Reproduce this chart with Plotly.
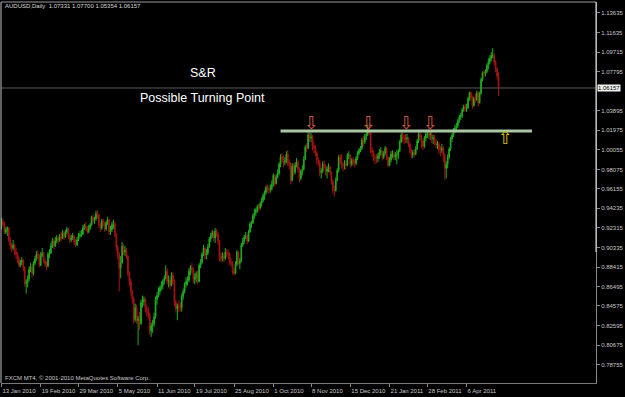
import plotly.graph_objects as go
import pandas as pd

# ---------------- data (prices in pips, 1 pip = 0.0001) ----------------
first_day = "2010-01-13"
first_open = 9250

closes = [
    9290, 9270, 9190,
    9210, 9230, 9110, 9050, 9030,
    9060, 8990, 8970, 8920, 8860,
    8890, 8910, 8840, 8680, 8690,
    8720, 8820, 8840, 8780, 8880,
    8920, 8970, 8950, 8860, 8960,
    8980, 8900, 8870, 8850, 8970,
    8980, 9050, 9100, 9050, 9100,
    9130, 9110, 9140, 9130, 9180,
    9140, 9190, 9220, 9150, 9110,
    9130, 9150, 9090, 9060, 9110,
    9150, 9160, 9170, 9230, 9250,
    9230, 9190, 9230, 9260, 9330,
    9310, 9320, 9370, 9360, 9260,
    9230, 9300, 9280, 9220, 9280,
    9310, 9190, 9210, 9260, 9270,
    9170, 9040, 8970, 8830, 8880,
    9050, 8990, 9010, 8950, 8780,
    8700, 8600, 8530, 8320, 8440,
    8310, 8330, 8280, 8490, 8500,
    8520, 8430, 8410, 8370, 8210,
    8260, 8280, 8350, 8520, 8560,
    8600, 8640, 8660, 8700, 8730,
    8800, 8700, 8710, 8660, 8760,
    8700, 8490, 8430, 8460, 8450,
    8440, 8550, 8600, 8670, 8700,
    8710, 8800, 8840, 8820, 8720,
    8740, 8780, 8700, 8860, 8890,
    8970, 9030, 8960, 8980, 9040,
    9120, 9150, 9180, 9130, 9200,
    9170, 9100, 8930, 8930, 8950,
    8930, 8990, 8970, 8970, 8890,
    8880, 8800, 8780, 8870, 8990,
    8880, 8900, 9060, 9100, 9140,
    9150, 9100, 9190, 9270, 9280,
    9350, 9380, 9410, 9440, 9430,
    9470, 9500, 9550, 9580, 9630,
    9610, 9610, 9620, 9660, 9750,
    9670, 9730, 9770, 9860, 9930,
    9920, 9880, 9890, 9960, 9870,
    9850, 9700, 9840, 9780, 9850,
    9880, 9810, 9720, 9790, 9810,
    9910, 10030, 10020, 10150, 10120,
    10130, 10040, 10020, 9970, 9900,
    9870, 9780, 9790, 9860, 9840,
    9790, 9810, 9830, 9780, 9690,
    9600, 9600, 9700, 9800, 9930,
    9890, 9850, 9850, 9860, 9850,
    9950, 9950, 9860, 9900, 9890,
    9870, 9920, 9970, 10000, 10020,
    10100, 10080, 10130, 10160, 10220,
    10170, 10000, 9980, 9920, 9920,
    9920, 9940, 9980, 9990, 9930,
    9970, 10020, 9930, 9850, 9900,
    9960, 9960, 9930, 9950, 9950,
    9990, 10080, 10150, 10120, 10110,
    10110, 10120, 10060, 10000, 9950,
    9980, 9960, 10010, 10090, 10160,
    10130, 10090, 10040, 10120, 10160,
    10160, 10150, 10160, 10110, 10120,
    10080, 10050, 10060, 10000, 10000,
    10020, 9950, 9820, 9860, 9930,
    10010, 10110, 10150, 10200, 10220,
    10240, 10290, 10330, 10340, 10400,
    10430, 10410, 10420, 10510, 10570,
    10520, 10440, 10510, 10500, 10570,
    10470, 10560, 10700, 10770, 10760,
    10780, 10840, 10870, 10910, 10940,
    10940, 10870, 10810, 10733.1, 10615.7,
]

highs = [
    9330, 9320, 9290,
    9240, 9245, 9240, 9140, 9080,
    9110, 9070, 9030, 8990, 8950,
    8910, 8940, 8920, 8850, 8720,
    8760, 8850, 8880, 8870, 8900,
    8950, 9000, 9010, 8970, 8990,
    9030, 8990, 8930, 8900, 8990,
    9020, 9080, 9130, 9120, 9140,
    9160, 9150, 9170, 9190, 9210,
    9200, 9210, 9240, 9230, 9170,
    9160, 9180, 9160, 9120, 9140,
    9180, 9200, 9210, 9260, 9270,
    9290, 9250, 9260, 9280, 9350,
    9360, 9340, 9400, 9405, 9370,
    9280, 9320, 9320, 9290, 9300,
    9340, 9320, 9250, 9290, 9310,
    9290, 9180, 9060, 8990, 8950,
    9090, 9070, 9050, 9030, 8960,
    8800, 8730, 8620, 8550, 8480,
    8470, 8360, 8400, 8520, 8560,
    8550, 8540, 8470, 8450, 8390,
    8290, 8320, 8390, 8550, 8590,
    8640, 8660, 8700, 8720, 8760,
    8860, 8830, 8760, 8740, 8790,
    8790, 8720, 8520, 8480, 8510,
    8490, 8580, 8630, 8690, 8740,
    8750, 8830, 8860, 8880, 8840,
    8780, 8800, 8810, 8880, 8920,
    8990, 9060, 9040, 9020, 9070,
    9140, 9180, 9210, 9200, 9230,
    9220, 9190, 9110, 8980, 8990,
    8980, 9030, 9020, 9010, 8990,
    8930, 8900, 8830, 8900, 9010,
    9000, 8930, 9080, 9130, 9160,
    9190, 9170, 9210, 9290, 9300,
    9370, 9420, 9430, 9460, 9470,
    9490, 9530, 9570, 9600, 9650,
    9660, 9650, 9660, 9700, 9770,
    9760, 9760, 9810, 9880, 9960,
    9970, 9950, 9930, 9990, 10000,
    9910, 9880, 9870, 9870, 9880,
    9920, 9900, 9830, 9810, 9850,
    9940, 10050, 10070, 10180, 10183,
    10170, 10150, 10080, 10050, 9990,
    9930, 9900, 9820, 9890, 9900,
    9860, 9840, 9870, 9850, 9790,
    9710, 9650, 9730, 9820, 9950,
    9960, 9960, 9880, 9900, 9900,
    9970, 9990, 9960, 9920, 9930,
    9910, 9940, 9990, 10020, 10040,
    10120, 10140, 10160, 10190, 10250,
    10255, 10180, 10030, 10000, 9960,
    9960, 9970, 10010, 10030, 10000,
    9990, 10040, 10030, 9940, 9930,
    9990, 10000, 9990, 9980, 10000,
    10010, 10100, 10170, 10180, 10150,
    10160, 10160, 10130, 10080, 10020,
    10000, 10010, 10040, 10110, 10180,
    10180, 10150, 10100, 10140, 10180,
    10200, 10220, 10190, 10180, 10150,
    10150, 10110, 10090, 10080, 10040,
    10060, 10040, 9970, 9890, 9960,
    10030, 10130, 10170, 10220, 10250,
    10270, 10310, 10350, 10370, 10420,
    10450, 10460, 10460, 10530, 10580,
    10580, 10540, 10530, 10560, 10590,
    10580, 10580, 10720, 10780, 10790,
    10800, 10860, 10910, 10940, 10970,
    11011, 10960, 10890, 10820, 10770,
]

lows = [
    9215, 9240, 9170,
    9170, 9150, 9090, 9020, 8990,
    9010, 8960, 8920, 8880, 8840,
    8840, 8860, 8800, 8650, 8580,
    8640, 8700, 8790, 8740, 8760,
    8860, 8900, 8920, 8840, 8850,
    8940, 8880, 8840, 8810, 8840,
    8930, 8970, 9030, 9020, 9040,
    9080, 9070, 9090, 9100, 9120,
    9110, 9130, 9170, 9120, 9080,
    9090, 9110, 9060, 9040, 9050,
    9100, 9130, 9140, 9160, 9210,
    9200, 9170, 9180, 9210, 9250,
    9280, 9270, 9300, 9320, 9230,
    9190, 9210, 9250, 9190, 9200,
    9260, 9160, 9160, 9190, 9220,
    9140, 9000, 8920, 8600, 8730,
    8900, 8960, 8950, 8920, 8750,
    8650, 8560, 8480, 8280, 8300,
    8280, 8067, 8220, 8270, 8440,
    8460, 8390, 8350, 8330, 8170,
    8150, 8190, 8250, 8330, 8470,
    8540, 8570, 8610, 8620, 8670,
    8720, 8670, 8640, 8620, 8650,
    8670, 8450, 8390, 8316, 8400,
    8400, 8400, 8520, 8580, 8640,
    8660, 8690, 8760, 8780, 8680,
    8670, 8690, 8670, 8690, 8830,
    8870, 8950, 8920, 8920, 8960,
    9030, 9090, 9130, 9100, 9080,
    9140, 9060, 8900, 8890, 8900,
    8890, 8910, 8940, 8920, 8860,
    8850, 8770, 8760, 8770, 8850,
    8860, 8820, 8890, 9040, 9070,
    9120, 9070, 9090, 9180, 9230,
    9270, 9320, 9350, 9380, 9390,
    9410, 9440, 9480, 9510, 9560,
    9580, 9570, 9580, 9600, 9640,
    9640, 9660, 9720, 9750, 9830,
    9880, 9830, 9850, 9870, 9840,
    9810, 9660, 9690, 9750, 9760,
    9830, 9780, 9680, 9700, 9750,
    9800, 9900, 9980, 10010, 10080,
    10080, 10000, 9970, 9940, 9860,
    9840, 9740, 9720, 9770, 9810,
    9750, 9720, 9780, 9750, 9660,
    9570, 9540, 9590, 9690, 9780,
    9860, 9820, 9790, 9810, 9810,
    9840, 9910, 9830, 9840, 9850,
    9830, 9850, 9900, 9950, 9980,
    10000, 10040, 10060, 10100, 10140,
    10150, 9970, 9940, 9890, 9860,
    9870, 9880, 9910, 9950, 9900,
    9910, 9950, 9900, 9830, 9840,
    9880, 9920, 9900, 9900, 9860,
    9910, 9980, 10070, 10080, 10060,
    10070, 10070, 10030, 9970, 9920,
    9920, 9930, 9950, 10000, 10070,
    10100, 10020, 10000, 10020, 10090,
    10120, 10110, 10100, 10070, 10060,
    10050, 10020, 10010, 9960, 9940,
    9970, 9880, 9705, 9720, 9820,
    9910, 9990, 10080, 10130, 10170,
    10190, 10220, 10270, 10300, 10320,
    10380, 10380, 10380, 10410, 10490,
    10490, 10410, 10430, 10470, 10490,
    10430, 10460, 10550, 10680, 10730,
    10730, 10760, 10800, 10850, 10880,
    10910, 10840, 10770, 10700, 10535.4,
]

date_labels = ["13 Jan 2010", "19 Feb 2010", "29 Mar 2010", "5 May 2010", "11 Jun 2010",
               "19 Jul 2010", "25 Aug 2010", "1 Oct 2010", "8 Nov 2010", "15 Dec 2010",
               "21 Jan 2011", "28 Feb 2011", "6 Apr 2011"]

# 1.05875 sits under the highlighted current-price label, so it is not shown
price_ticks = [1.13635, 1.11635, 1.09715, 1.07795, 1.03895, 1.01975, 1.00055,
               0.98075, 0.96155, 0.94235, 0.92315, 0.90335, 0.88415, 0.86495, 0.84575,
               0.82595, 0.80675, 0.78755, 0.76835]

sr_level = 1.0190          # support / resistance line
symbol = "AUDUSD,Daily"
copyright_text = "FXCM MT4, \u00a9 2001-2010 MetaQuotes Software Corp."

# ---------------- build series ----------------
PIP = 10000.0
c = [v / PIP for v in closes]
h = [v / PIP for v in highs]
l = [v / PIP for v in lows]
o = [first_open / PIP] + c[:-1]          # FX daily open = previous close
n = len(c)
dates = pd.bdate_range(first_day, periods=n)
xs = list(range(n))
label_idx = [int(dates.get_indexer([pd.to_datetime(s, format="%d %b %Y")])[0]) for s in date_labels]

# ---------------- geometry ----------------
W, H = 625, 397
ML, MR, MT, MB = 1, 23, 2, 14
PW, PH = W - ML - MR, H - MT - MB
BAR_PX, FIRST_BAR_PX = 1.468, 1.5
x_lo = (ML - FIRST_BAR_PX) / BAR_PX
x_hi = (ML + PW - FIRST_BAR_PX) / BAR_PX
PX_PER_UNIT, REF_PRICE, REF_PY = 1009.5, 0.76835, 384.0
y_hi = REF_PRICE + (REF_PY - MT) / PX_PER_UNIT
y_lo = REF_PRICE + (REF_PY - (MT + PH)) / PX_PER_UNIT


def pxx(px):
    return (px - ML) / PW


def pxy(py):
    return 1 - (py - MT) / PH


UP, DN = "#1fae1f", "#a51414"
AXC = "#c8c8c8"
SMALL = dict(family="Liberation Sans, Arial", size=6, color=AXC)

fig = go.Figure()
fig.add_trace(go.Candlestick(
    x=xs, open=o, high=h, low=l, close=c,
    increasing=dict(line=dict(color=UP, width=1), fillcolor=UP),
    decreasing=dict(line=dict(color=DN, width=1), fillcolor=DN),
    whiskerwidth=0, hoverinfo="skip", showlegend=False))

shapes = [
    # current price line
    dict(type="line", xref="paper", x0=0, x1=1, yref="y", y0=c[-1], y1=c[-1],
         line=dict(color="#5a5a5a", width=1), layer="below"),
    # S&R line
    dict(type="line", xref="x", x0=192, x1=365, yref="y", y0=sr_level, y1=sr_level,
         line=dict(color="#a9c8a2", width=3)),
    # frame
    dict(type="line", xref="paper", x0=0, x1=0, yref="paper", y0=0, y1=1,
         line=dict(color="#c0c0c0", width=1)),
    dict(type="line", xref="paper", x0=0, x1=1, yref="paper", y0=1, y1=1,
         line=dict(color="#9a9a9a", width=1)),
    dict(type="line", xref="paper", x0=1, x1=1, yref="paper", y0=pxy(252), y1=1,
         line=dict(color="#e8e8e8", width=1)),
]

ann = [
    dict(text=f"{symbol}  {o[-1]:.5f} {h[-1]:.5f} {l[-1]:.5f} {c[-1]:.5f}",
         xref="paper", yref="paper", x=pxx(3), y=pxy(6), xanchor="left", yanchor="middle",
         showarrow=False, font=dict(family="Liberation Sans, Arial", size=6, color="#d8d8d8")),
    dict(text=copyright_text, xref="paper", yref="paper", x=pxx(3), y=pxy(378),
         xanchor="left", yanchor="middle", showarrow=False, font=SMALL),
    dict(text="S&amp;R", xref="paper", yref="paper", x=pxx(205.5), y=pxy(73),
         xanchor="center", yanchor="middle", showarrow=False,
         font=dict(family="Liberation Sans, Arial", size=12.5, color="white")),
    dict(text="Possible Turning Point", xref="paper", yref="paper", x=pxx(204.5), y=pxy(98),
         xanchor="center", yanchor="middle", showarrow=False,
         font=dict(family="Liberation Sans, Arial", size=12.5, color="white")),
    dict(text=f"{c[-1]:.5f}", xref="paper", yref="y", x=1, y=c[-1], xanchor="left",
         yanchor="middle", xshift=1, showarrow=False, bgcolor="#f0f0f0", borderpad=0,
         font=dict(family="Liberation Sans, Arial", size=6, color="black")),
]
for xa in [213, 252.5, 278.5, 295.5]:
    ann.append(dict(text="\u21e9", xref="x", yref="y", x=xa, y=sr_level, yshift=8,
                    xanchor="center", yanchor="middle", showarrow=False,
                    font=dict(family="DejaVu Sans", size=18, color="#d05a44")))
ann.append(dict(text="\u21e7", xref="x", yref="y", x=346.5, y=sr_level, yshift=-7,
                xanchor="center", yanchor="middle", showarrow=False,
                font=dict(family="DejaVu Sans", size=18, color="#d4c000")))

fig.update_layout(
    width=W, height=H, margin=dict(l=ML, r=MR, t=MT, b=MB, pad=0),
    paper_bgcolor="black", plot_bgcolor="black", showlegend=False,
    shapes=shapes, annotations=ann,
    xaxis=dict(range=[x_lo, x_hi], rangeslider=dict(visible=False), showgrid=False,
               zeroline=False, showline=True, linecolor="#7a7a7a", linewidth=1,
               ticks="outside", ticklen=3, tickcolor="#8a8a8a", tickwidth=1,
               tickvals=label_idx, ticktext=date_labels, ticklabelposition="outside right",
               ticklabelstandoff=2, tickangle=0, tickfont=SMALL, fixedrange=True),
    yaxis=dict(range=[y_lo, y_hi], side="right", showgrid=False, zeroline=False,
               showline=True, linecolor="#8a8a8a", linewidth=1,
               ticks="outside", ticklen=3, tickcolor="#8a8a8a", tickwidth=1,
               tickvals=price_ticks, ticktext=[f"{v:.5f}" for v in price_ticks],
               tickfont=SMALL, fixedrange=True),
)

fig.write_html("out.html")
